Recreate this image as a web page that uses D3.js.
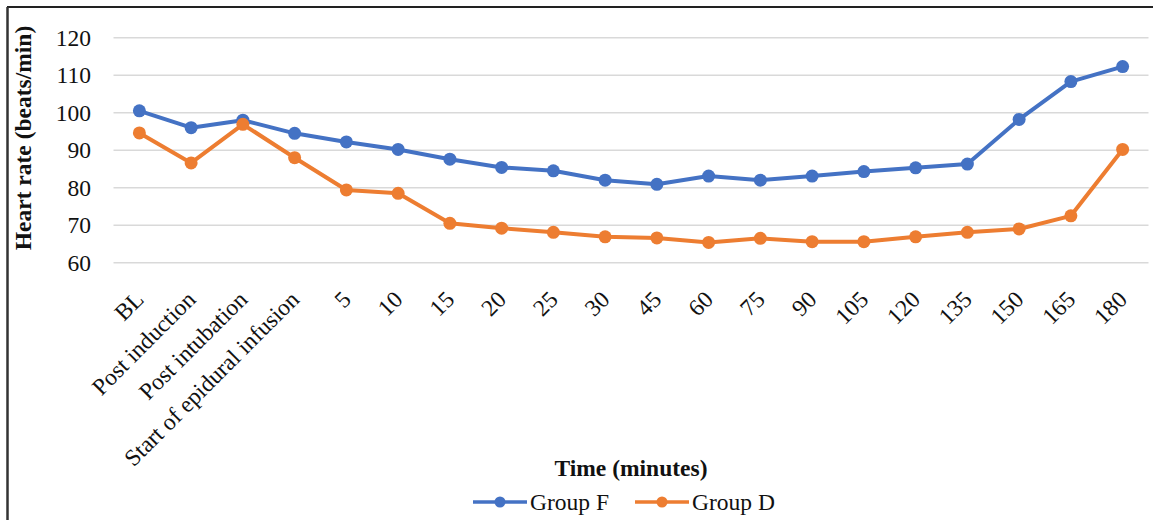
<!DOCTYPE html>
<html>
<head>
<meta charset="utf-8">
<script src="https://cdn.jsdelivr.net/npm/d3@7"></script>
<style>
  html, body { margin: 0; padding: 0; background: #fff; }
  svg { display: block; }
  text { font-family: "Liberation Serif", "Times New Roman", serif; fill: #111; }
</style>
</head>
<body>
<div id="chart"></div>
<script>
// Time points along the x axis
const categories = ["BL", "Post induction", "Post intubation", "Start of epidural infusion",
  "5", "10", "15", "20", "25", "30", "45", "60", "75", "90", "105", "120", "135", "150", "165", "180"];

// Mean heart rate (beats/min) per group
const groupF = [100.5, 96, 98, 94.5, 92.2, 90.2, 87.6, 85.4, 84.5, 82, 80.9, 83.1, 82, 83.1, 84.3, 85.3, 86.3, 98.2, 108.3, 112.3];
const groupD = [94.6, 86.6, 96.9, 88, 79.4, 78.5, 70.5, 69.2, 68.1, 66.9, 66.6, 65.4, 66.5, 65.6, 65.6, 66.9, 68.1, 69, 72.5, 90.2];

const yTicks = [60, 70, 80, 90, 100, 110, 120];

const series = [
  { name: "Group F", values: groupF, color: "#4472C4" },
  { name: "Group D", values: groupD, color: "#ED7D31" }
];

const W = 1153, H = 520;
const FONT = "23.5px";
const svg = d3.select("#chart").append("svg").attr("width", W).attr("height", H);

// outer frame (top and left edges)
svg.append("line").attr("x1", 7).attr("x2", 1153).attr("y1", 7).attr("y2", 7)
  .attr("stroke", "#222").attr("stroke-width", 2);
svg.append("line").attr("x1", 7.5).attr("x2", 7.5).attr("y1", 7).attr("y2", H)
  .attr("stroke", "#333").attr("stroke-width", 2.5);

const x = d3.scaleBand().domain(categories).range([113.5, 1148.5]);
const y = d3.scaleLinear().domain([60, 120]).range([262.7, 37.7]);

// horizontal gridlines
svg.append("g").selectAll("line").data(yTicks).join("line")
  .attr("x1", 113.5).attr("x2", 1148.5)
  .attr("y1", d => y(d)).attr("y2", d => y(d))
  .attr("stroke", "#d9d9d9").attr("stroke-width", 1.5);

// y axis tick labels
const yAxis = d3.axisLeft(y).tickValues(yTicks).tickSize(0).tickPadding(0);
const gy = svg.append("g").attr("transform", "translate(91,0)").call(yAxis);
gy.select(".domain").remove();
gy.attr("font-family", null).attr("font-size", null);
gy.selectAll("text").style("font-size", FONT).attr("fill", "#111");

// x axis tick labels, rotated
const xAxis = d3.axisBottom(x).tickSize(0).tickPadding(0);
const gx = svg.append("g").call(xAxis);
gx.select(".domain").remove();
gx.attr("font-family", null).attr("font-size", null);
gx.selectAll("text")
  .attr("x", 0).attr("y", 0).attr("dy", "0.35em")
  .attr("text-anchor", "end")
  .attr("transform", "translate(0,295) rotate(-45)")
  .style("font-size", FONT).attr("fill", "#111");

// axis titles
svg.append("text")
  .attr("transform", "translate(31,138) rotate(-90)")
  .attr("text-anchor", "middle")
  .style("font-size", FONT).style("font-weight", "bold")
  .text("Heart rate (beats/min)");

svg.append("text")
  .attr("x", 631).attr("y", 476)
  .attr("text-anchor", "middle")
  .style("font-size", FONT).style("font-weight", "bold")
  .text("Time (minutes)");

// series lines and markers
const line = d3.line()
  .x((d, i) => x(categories[i]) + x.bandwidth() / 2)
  .y(d => y(d));

series.forEach(s => {
  svg.append("path").datum(s.values)
    .attr("d", line)
    .attr("fill", "none").attr("stroke", s.color)
    .attr("stroke-width", 4).attr("stroke-linejoin", "round");
  svg.append("g").selectAll("circle").data(s.values).join("circle")
    .attr("cx", (d, i) => x(categories[i]) + x.bandwidth() / 2)
    .attr("cy", d => y(d))
    .attr("r", 6.5).attr("fill", s.color);
});

// legend
const legendX = [473, 635];
const legend = svg.append("g").selectAll("g").data(series).join("g")
  .attr("transform", (d, i) => `translate(${legendX[i]},502)`);
legend.append("line").attr("x1", 0).attr("x2", 54).attr("y1", 0).attr("y2", 0)
  .attr("stroke", d => d.color).attr("stroke-width", 3.5);
legend.append("circle").attr("cx", 27).attr("cy", 0).attr("r", 5.5).attr("fill", d => d.color);
legend.append("text").attr("x", 57).attr("y", 0).attr("dy", "0.35em")
  .style("font-size", FONT).text(d => d.name);
</script>
</body>
</html>
